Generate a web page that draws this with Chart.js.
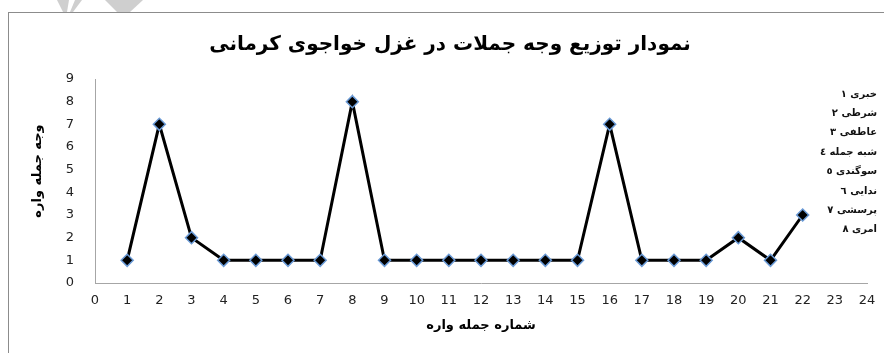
<!DOCTYPE html>
<html lang="fa">
<head>
<meta charset="utf-8">
<title>نمودار توزیع وجه جملات</title>
<script src="https://cdn.jsdelivr.net/npm/chart.js@4.4.1/dist/chart.umd.min.js"></script>
<style>
    html, body { margin: 0; padding: 0; background: #ffffff; overflow: hidden; }
    #wrap { position: relative; width: 884px; height: 353px; }
    /* outer frame of the chart sheet */
    #frame {
        position: absolute; left: 8px; top: 12px; width: 1000px; height: 500px;
        border-left: 1.5px solid #8c8c8c; border-top: 1.5px solid #8c8c8c;
    }
    #mark { position: absolute; left: 0; top: 0; }
    #moodChart { position: absolute; left: 0; top: 0; }
</style>
</head>
<body>
<div id="wrap">
    <svg id="mark" width="200" height="13">
        <polygon points="57,0 69,0 67,12 63,12" fill="#cfcfcf"/>
        <polygon points="75,0 82,0 73,12 70,12" fill="#cfcfcf"/>
        <polygon points="105,0 143,0 130,12 117,12" fill="#cfcfcf"/>
    </svg>
    <div id="frame"></div>
    <canvas id="moodChart" width="884" height="353"></canvas>
</div>
<script>
// ------------------------------------------
// sentence number -> mood type code
// ------------------------------------------
const sentenceNums = [1, 2, 3, 4, 5, 6, 7, 8, 9, 10, 11, 12, 13, 14, 15, 16, 17, 18, 19, 20, 21, 22];
const moodValues   = [1, 7, 2, 1, 1, 1, 1, 8, 1, 1, 1, 1, 1, 1, 1, 7, 1, 1, 1, 2, 1, 3];

// key for the mood codes shown at the right side
const moodTypes = ['خبری ۱', 'شرطی ۲', 'عاطفی ۳', 'شبه جمله ٤', 'سوگندی ٥', 'ندایی ٦', 'پرسشی ۷', 'امری ۸'];

const chartTitle = 'نمودار توزیع وجه جملات در غزل خواجوی کرمانی';
const xTitle = 'شماره جمله واره';
const yTitle = 'وجه جمله واره';

const axisGrey = '#a6a6a6';
const tickFont = { family: 'DejaVu Sans', size: 13 };

// title, y title and the mood key are drawn by hand so they sit where the sheet has them
const textPlugin = {
    id: 'sheetText',
    afterDraw(chart) {
        const ctx = chart.ctx;
        ctx.save();
        ctx.direction = 'rtl';
        ctx.fillStyle = '#000';
        ctx.textBaseline = 'middle';

        // main title
        ctx.font = 'bold 20px "DejaVu Sans", sans-serif';
        ctx.textAlign = 'center';
        ctx.fillText(chartTitle, 450, 45);

        // vertical axis title
        ctx.save();
        ctx.translate(38, 171);
        ctx.rotate(-Math.PI / 2);
        ctx.font = 'bold 13px "DejaVu Sans", sans-serif';
        ctx.fillText(yTitle, 0, 0);
        ctx.restore();

        // mood key
        ctx.font = 'bold 10px "DejaVu Serif", "DejaVu Sans", serif';
        ctx.fillStyle = '#111';
        ctx.textAlign = 'right';
        moodTypes.forEach((label, i) => {
            ctx.fillText(label, 877, 94 + i * 19.4);
        });
        ctx.restore();
    }
};

const moodChart = new Chart(document.getElementById('moodChart'), {
    type: 'line',
    data: {
        datasets: [{
            data: sentenceNums.map((n, i) => ({ x: n, y: moodValues[i] })),
            borderColor: '#000000',
            borderWidth: 3,
            tension: 0,
            pointStyle: 'rectRot',
            pointRadius: 6,
            pointHoverRadius: 6,
            pointBackgroundColor: '#000000',
            pointBorderColor: '#6a9ad6',
            pointBorderWidth: 1.5,
            clip: false
        }]
    },
    options: {
        responsive: false,
        devicePixelRatio: 1,
        animation: false,
        events: [],
        layout: { padding: { left: 0, right: 17, top: 79, bottom: 0 } },
        plugins: {
            legend: { display: false },
            tooltip: { enabled: false },
            title: { display: false }
        },
        scales: {
            x: {
                type: 'linear',
                min: 0,
                max: 24,
                grid: { display: false, drawTicks: false },
                border: { display: true, color: axisGrey, width: 1 },
                ticks: { stepSize: 1, padding: 10, color: '#222', font: tickFont, maxRotation: 0, autoSkip: false },
                title: {
                    display: true,
                    text: xTitle,
                    color: '#000',
                    font: { family: 'DejaVu Sans', size: 13, weight: 'bold' },
                    padding: { top: 0, bottom: 20 }
                },
                afterFit(scale) {
                    scale.height = 70;
                    scale.paddingLeft = 0;
                    scale.paddingRight = 0;
                }
            },
            y: {
                min: 0,
                max: 9,
                grid: { display: false, drawTicks: false },
                border: { display: true, color: axisGrey, width: 1 },
                ticks: { stepSize: 1, padding: 21, color: '#222', font: tickFont },
                afterFit(scale) {
                    scale.width = 95;
                    scale.paddingTop = 0;
                }
            }
        }
    },
    plugins: [textPlugin]
});
</script>
</body>
</html>
